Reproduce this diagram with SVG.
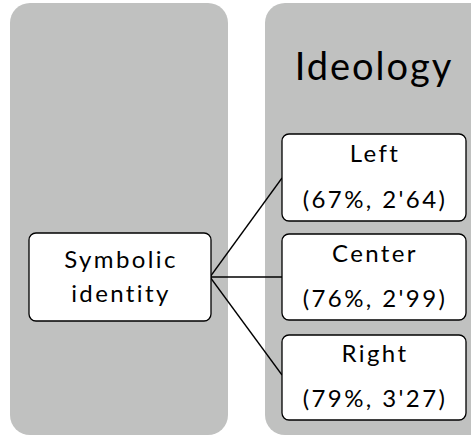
<svg xmlns="http://www.w3.org/2000/svg" width="471" height="437" viewBox="0 0 471 437">
<style>
.panel{fill:#c0c1c0}
.node rect{fill:#fff;stroke:#000;stroke-width:1.3}
text{font-family:Lato,"Open Sans",sans-serif;fill:#000;text-anchor:middle}
.t{font-size:24px;letter-spacing:2.4px}
.conn line{stroke:#000;stroke-width:1.3}
</style>
<rect width="471" height="437" fill="#fff"/>
<rect class="panel" x="10" y="3" width="218" height="432" rx="20"/>
<rect class="panel" x="265" y="3" width="230" height="432" rx="20"/>
<text x="374" y="80" font-size="38" letter-spacing="2">Ideology</text>
<g class="conn">
<line x1="210" y1="277" x2="282" y2="178"/>
<line x1="210" y1="277" x2="282" y2="277"/>
<line x1="210" y1="277" x2="282" y2="375"/>
</g>
<g id="symbolic" class="node">
<rect x="29" y="233" width="182" height="88" rx="7"/>
<text class="t" x="121" y="268">Symbolic</text>
<text class="t" x="121" y="302">identity</text>
</g>
<g id="left" class="node">
<rect x="282" y="134" width="184" height="87" rx="7"/>
<text class="t" x="375" y="162">Left</text>
<text class="t" x="375" y="208">(67%, 2'64)</text>
</g>
<g id="center" class="node">
<rect x="282" y="234" width="184" height="86" rx="7"/>
<text class="t" x="375" y="262">Center</text>
<text class="t" x="375" y="307">(76%, 2'99)</text>
</g>
<g id="right" class="node">
<rect x="282" y="335" width="184" height="85" rx="7"/>
<text class="t" x="375" y="362">Right</text>
<text class="t" x="375" y="407">(79%, 3'27)</text>
</g>
</svg>
